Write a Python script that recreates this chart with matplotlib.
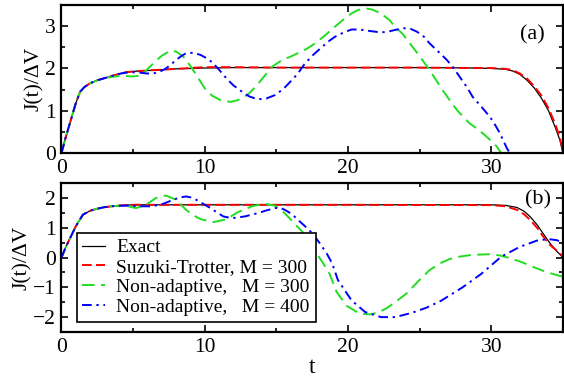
import matplotlib
matplotlib.use("Agg")
import matplotlib.pyplot as plt
from matplotlib.ticker import MultipleLocator

plt.rcParams["font.family"] = ["Liberation Serif", "DejaVu Serif"]

# ---- panel (a) ----
t_exact_a = [0, 0.3, 0.6, 1.0, 1.3, 1.6, 2.0, 2.5, 3.0, 3.5, 4.0, 4.5, 5.0, 6, 7, 8, 9, 10, 12, 15,
             20, 25, 29, 30, 31, 31.5, 32, 32.5, 33, 33.5, 34, 34.5, 34.8, 35]
j_exact_a = [0, 0.38, 0.72, 1.18, 1.45, 1.56, 1.65, 1.72, 1.77, 1.82, 1.87, 1.91, 1.93, 1.95, 1.97, 1.99, 2.0, 2.01, 2.02, 2.02,
             2.02, 2.02, 2.01, 2.0, 1.98, 1.94, 1.86, 1.72, 1.54, 1.30, 1.00, 0.58, 0.30, 0.0]

t_st_a = [0, 0.3, 0.6, 1.0, 1.3, 1.6, 2.0, 2.5, 3.0, 3.5, 4.0, 4.5, 5.0, 6, 7, 8, 9, 10, 12, 15,
          20, 25, 29, 30, 31, 31.5, 32, 32.5, 33, 33.5, 34, 34.5, 34.8, 35]
j_st_a = [0, 0.38, 0.72, 1.18, 1.45, 1.56, 1.65, 1.72, 1.77, 1.82, 1.87, 1.91, 1.93, 1.95, 1.97, 1.99, 2.01, 2.03, 2.03, 2.02,
          2.02, 2.02, 2.01, 2.01, 1.99, 1.96, 1.88, 1.76, 1.58, 1.36, 1.06, 0.66, 0.35, 0.05]

t_na300_a = [0, 0.3, 0.6, 1.0, 1.3, 1.6, 2.0, 2.5, 3.0, 3.5, 4.0, 4.5, 5.0, 5.5, 6.0, 6.5, 7.0, 7.6, 8.0, 8.5,
             9.0, 9.5, 10.0, 10.5, 11.1, 11.8, 12.3, 13.0, 13.5, 14.0, 14.7, 15.4, 16.0, 16.5, 17.1, 17.7,
             18.4, 19.1, 19.7, 20.25, 20.7, 21.2, 21.7, 22.3, 22.9, 23.3, 23.8, 24.3, 24.8, 25.3, 25.7,
             26.2, 26.6, 27.1, 27.6, 28.0, 28.5, 29.0, 29.4, 29.9, 30.4, 30.7]
j_na300_a = [0, 0.38, 0.72, 1.18, 1.45, 1.56, 1.65, 1.72, 1.77, 1.80, 1.82, 1.82, 1.81, 1.83, 1.98, 2.15, 2.30, 2.42, 2.40, 2.28,
             2.06, 1.80, 1.53, 1.36, 1.25, 1.21, 1.25, 1.38, 1.55, 1.75, 2.04, 2.20, 2.28, 2.36, 2.46, 2.59,
             2.78, 2.99, 3.16, 3.30, 3.38, 3.42, 3.39, 3.30, 3.14, 2.98, 2.82, 2.60, 2.38, 2.15, 1.96,
             1.70, 1.49, 1.25, 1.02, 0.87, 0.70, 0.58, 0.47, 0.32, 0.15, 0.0]

t_na400_a = [0, 0.3, 0.6, 1.0, 1.3, 1.6, 2.0, 2.5, 3.0, 3.5, 4.0, 4.5, 5.0, 5.5, 6.0, 6.4, 6.9, 7.3, 7.7, 8.0,
             8.4, 8.7, 9.2, 9.7, 10.2, 10.6, 11.0, 11.5, 12.0, 12.6, 13.1, 13.7, 14.3, 14.9, 15.5, 16.1,
             16.5, 17.0, 17.6, 18.2, 18.6, 19.1, 19.7, 20.25, 20.8, 21.4, 22.3, 22.8, 23.3, 23.9, 24.4,
             24.8, 25.3, 25.7, 26.3, 26.9, 27.4, 27.8, 28.3, 28.7, 29.3, 29.9, 30.3, 30.6, 31.1, 31.3]
j_na400_a = [0, 0.38, 0.72, 1.18, 1.45, 1.56, 1.65, 1.72, 1.77, 1.82, 1.87, 1.90, 1.91, 1.90, 1.88, 1.88, 1.93, 2.00, 2.11, 2.20,
             2.30, 2.36, 2.37, 2.32, 2.23, 2.12, 1.97, 1.77, 1.60, 1.45, 1.34, 1.27, 1.29, 1.37, 1.52, 1.73,
             1.88, 2.12, 2.33, 2.51, 2.63, 2.75, 2.85, 2.92, 2.92, 2.89, 2.85, 2.87, 2.91, 2.95, 2.93,
             2.87, 2.75, 2.59, 2.40, 2.20, 2.00, 1.80, 1.56, 1.33, 1.10, 0.86, 0.65, 0.47, 0.11, 0.0]

# ---- panel (b) ----
t_exact_b = [0, 0.3, 0.6, 1.0, 1.5, 2.0, 2.5, 3.0, 3.5, 4.0, 4.5, 5.0, 10, 20, 30, 31, 31.8, 32.3, 32.7,
             33.2, 33.6, 34.1, 34.5, 35]
j_exact_b = [0, 0.35, 0.65, 1.05, 1.44, 1.57, 1.64, 1.69, 1.72, 1.74, 1.76, 1.77, 1.77, 1.77, 1.77, 1.75, 1.68, 1.55, 1.38,
             1.10, 0.82, 0.48, 0.25, 0.0]

t_st_b = [0, 0.3, 0.6, 1.0, 1.5, 2.0, 2.5, 3.0, 3.5, 4.0, 4.5, 5.0, 10, 20, 30, 31, 31.8, 32.3, 32.7,
          33.2, 33.6, 34.1, 34.6, 35]
j_st_b = [0, 0.35, 0.65, 1.05, 1.44, 1.57, 1.64, 1.69, 1.72, 1.74, 1.76, 1.77, 1.77, 1.77, 1.76, 1.72, 1.60, 1.45, 1.27,
          1.00, 0.72, 0.42, 0.22, 0.03]

t_na300_b = [0, 0.3, 0.6, 1.0, 1.5, 2.0, 2.5, 3.0, 3.5, 4.0, 4.55, 5.2, 5.9, 6.6, 7.3, 8.0, 8.7, 9.2, 9.7,
             10.6, 11.5, 12.3, 13.3, 14.2, 14.9, 15.4, 15.8, 16.3, 16.8, 17.3, 17.8, 18.3, 18.7, 19.2, 19.9,
             20.8, 21.5, 22.1, 22.7, 23.3, 24.1, 24.7, 25.2, 25.7, 26.4, 27.1, 27.8, 28.5, 29.2, 29.9,
             30.6, 31.3, 32.1, 32.9, 33.8, 34.8, 35]
j_na300_b = [0, 0.35, 0.65, 1.05, 1.44, 1.57, 1.64, 1.69, 1.72, 1.74, 1.73, 1.66, 1.77, 2.00, 2.08, 1.94, 1.60, 1.42, 1.29,
             1.19, 1.28, 1.52, 1.72, 1.81, 1.74, 1.57, 1.38, 1.12, 0.87, 0.55, 0.15, -0.22, -0.53, -1.15, -1.62,
             -1.88, -1.91, -1.85, -1.70, -1.50, -1.20, -0.90, -0.65, -0.42, -0.20, -0.05, 0.03, 0.08, 0.10, 0.11,
             0.07, -0.02, -0.15, -0.31, -0.48, -0.62, -0.64]

t_na400_b = [0, 0.3, 0.6, 1.0, 1.5, 2.0, 2.5, 3.0, 3.5, 4.0, 4.55, 5.5, 6.2, 6.9, 7.4, 7.8, 8.3, 8.7, 9.0,
             9.4, 9.9, 10.4, 10.9, 11.3, 11.9, 12.8, 13.7, 14.3, 14.9, 15.3, 15.6, 16.1, 16.5, 17.0, 17.5,
             18.0, 18.5, 18.9, 19.3, 20.25, 21.2, 22.3, 23.3, 24.5, 25.5, 26.5, 28.0, 29.3, 30.7, 32.0,
             33.2, 34.0, 34.6, 35]
j_na400_b = [0, 0.35, 0.65, 1.05, 1.44, 1.57, 1.64, 1.69, 1.72, 1.74, 1.74, 1.72, 1.72, 1.77, 1.86, 1.94, 2.02, 2.05, 2.02,
             1.94, 1.80, 1.66, 1.50, 1.38, 1.32, 1.38, 1.49, 1.58, 1.66, 1.66, 1.60, 1.45, 1.27, 1.05, 0.82,
             0.50, 0.15, -0.20, -0.76, -1.44, -1.83, -2.00, -2.00, -1.85, -1.68, -1.45, -1.00, -0.55, 0.03, 0.36,
             0.57, 0.62, 0.58, 0.48]

labels = ["Exact", "Suzuki-Trotter, M = 300", "Non-adaptive,   M = 300", "Non-adaptive,   M = 400"]

fig = plt.figure(figsize=(5.64, 3.79), dpi=100)
ax1 = fig.add_axes([0.109, 0.596, 0.889, 0.391])
ax2 = fig.add_axes([0.109, 0.124, 0.889, 0.393])


def draw(ax, te, je, ts, js, t3, j3, t4, j4):
    ax.plot(te, je, color="black", lw=0.9, label=labels[0])
    ax.plot(ts, js, color="red", lw=1.4, dashes=[5.0, 2.2], label=labels[1])
    ax.plot(t3, j3, color="#22dd22", lw=1.4, dashes=[6.5, 3.3], label=labels[2])
    ax.plot(t4, j4, color="blue", lw=1.4, dashes=[5.0, 2.4, 1.2, 2.4], label=labels[3])
    ax.set_xlim(0, 35)
    ax.xaxis.set_major_locator(MultipleLocator(10))
    ax.xaxis.set_minor_locator(MultipleLocator(5))
    ax.yaxis.set_minor_locator(MultipleLocator(0.5))
    ax.tick_params(which="both", direction="in", top=True, right=True, labelsize=15.5, width=1.2, pad=4)
    ax.tick_params(which="major", length=5)
    ax.tick_params(which="minor", length=3)
    for s in ax.spines.values():
        s.set_linewidth(1.6)
    ax.set_ylabel("J(t)/ΔV", fontsize=15.5, labelpad=1)


draw(ax1, t_exact_a, j_exact_a, t_st_a, j_st_a, t_na300_a, j_na300_a, t_na400_a, j_na400_a)
ax1.set_ylim(0, 3.5)
ax1.yaxis.set_major_locator(MultipleLocator(1))
ax1.text(0.94, 0.80, "(a)", transform=ax1.transAxes, fontsize=16, ha="center", va="center")

draw(ax2, t_exact_b, j_exact_b, t_st_b, j_st_b, t_na300_b, j_na300_b, t_na400_b, j_na400_b)
ax2.set_ylim(-2.5, 2.5)
ax2.yaxis.set_major_locator(MultipleLocator(1))
ax2.set_xlabel("t", fontsize=17, labelpad=0)
ax2.text(0.951, 0.886, "(b)", transform=ax2.transAxes, fontsize=16, ha="center", va="center")

leg = ax2.legend(loc="lower left", bbox_to_anchor=(0.03, 0.067), borderaxespad=0, fontsize=14,
                 fancybox=False, edgecolor="black", framealpha=1, handlelength=1.15,
                 labelspacing=0.12, borderpad=0.3, handletextpad=0.6)
leg.get_frame().set_linewidth(1.2)

fig.savefig("out.png", dpi=100)
